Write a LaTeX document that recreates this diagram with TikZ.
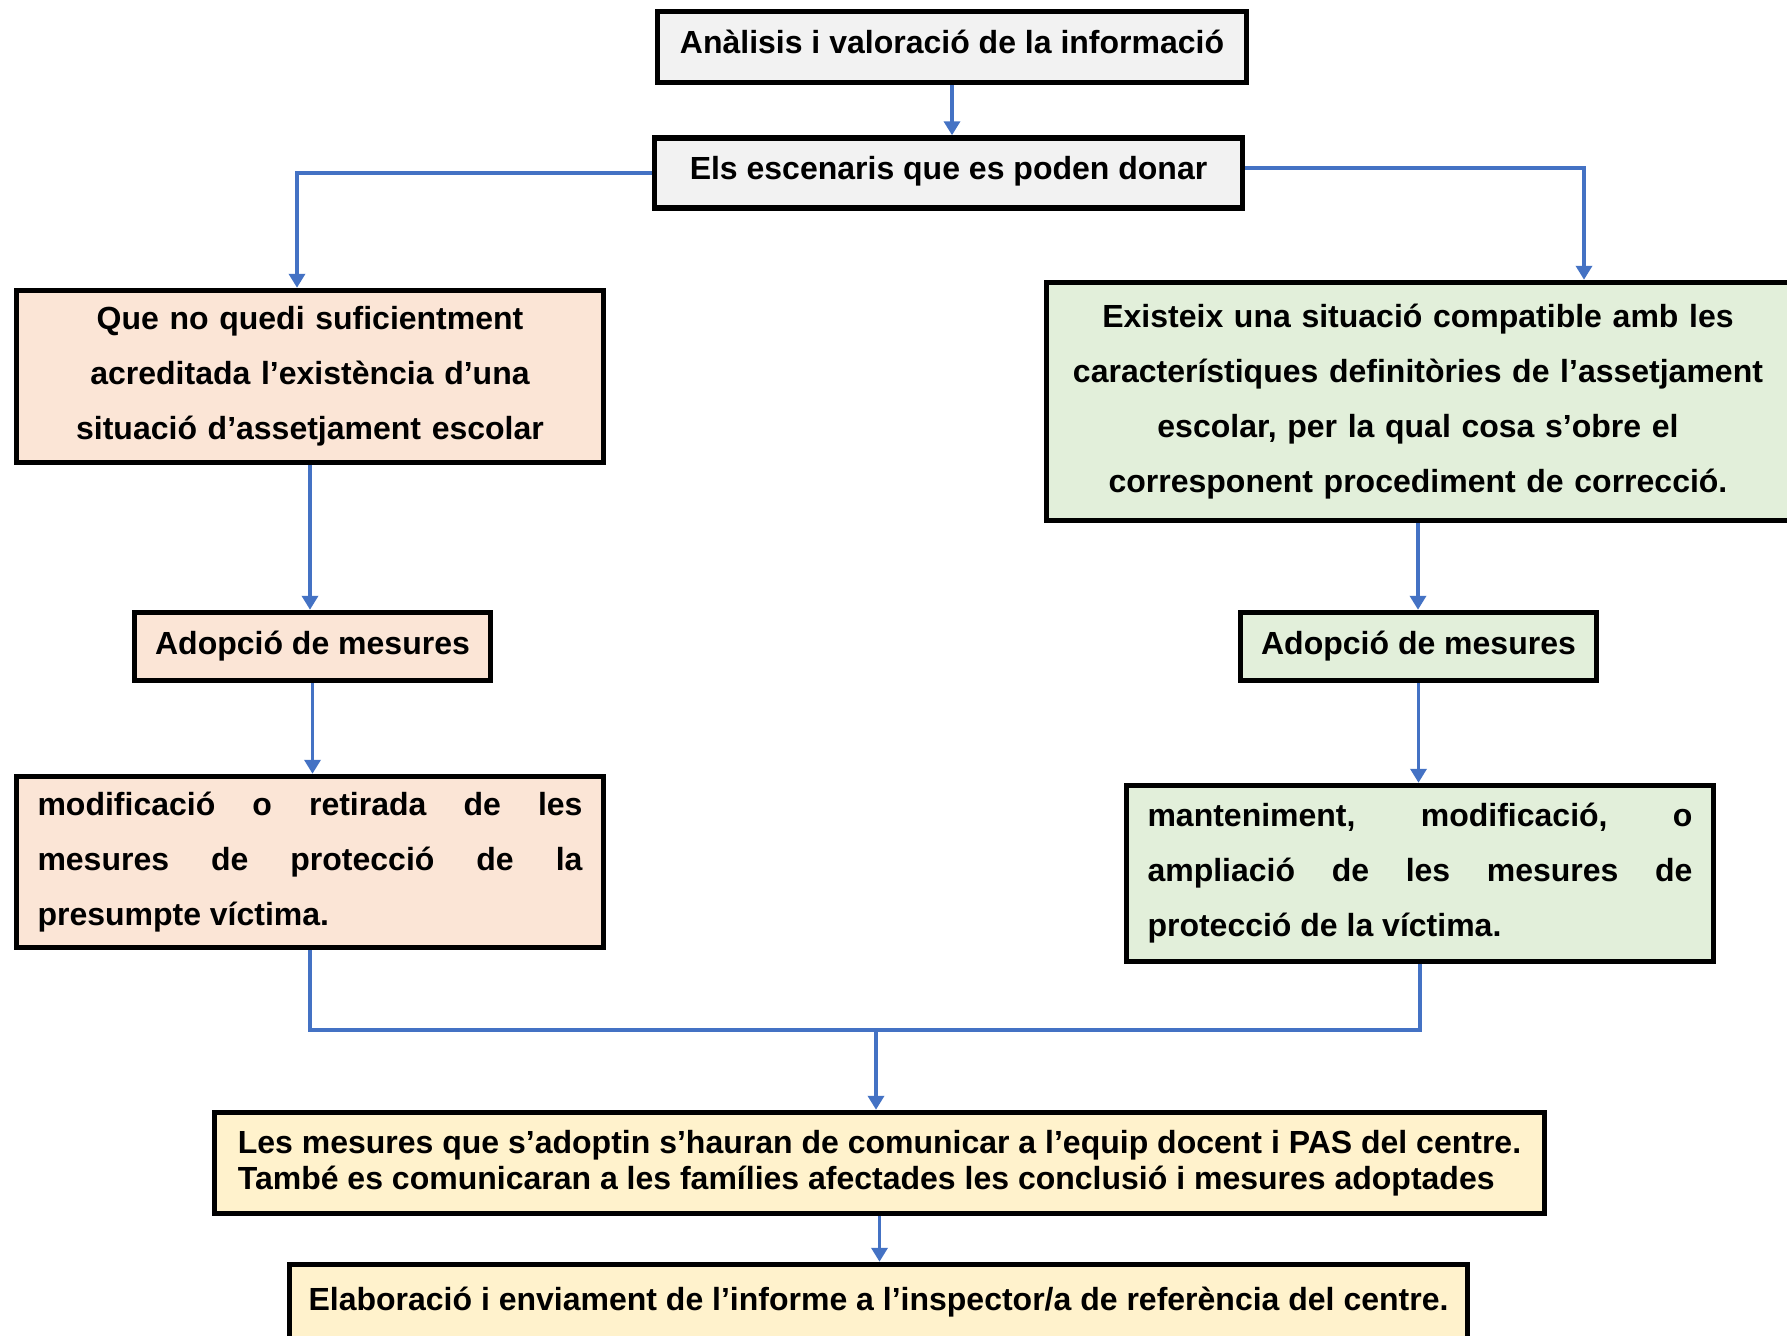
\documentclass[tikz,border=0pt]{standalone}
\usepackage{fontspec}
\setmainfont{Liberation Sans}
\usetikzlibrary{arrows.meta}
\definecolor{boxgray}{HTML}{F2F2F2}
\definecolor{boxsalmon}{HTML}{FBE5D6}
\definecolor{boxgreen}{HTML}{E2EFDA}
\definecolor{boxyellow}{HTML}{FFF2CC}
\definecolor{linkblue}{HTML}{4472C4}
\begin{document}
\begin{tikzpicture}[x=0.5pt,y=-0.5pt,
  box/.style={draw=black, line width=2.75pt, rectangle, inner sep=0pt,
    font=\bfseries\fontsize{16}{27.5}\selectfont},
  conn/.style={draw=linkblue, line width=1.75pt},
  arr/.style={conn, -{Triangle[width=8pt,length=7pt]}}]
\useasboundingbox (0,0) rectangle (1787,1335);
\fill[white] (0,0) rectangle (1787,1335);
\clip (0,0) rectangle (1787,1335);

\node[box, fill=boxgray, minimum width=294.5pt, minimum height=35.5pt, text depth=5pt] (b1) at (952,47)
  {Anàlisis i valoració de la informació};
\node[box, fill=boxgray, minimum width=294pt, minimum height=35pt, text depth=5pt] (b2) at (948.5,173)
  {Els escenaris que es poden donar};
\node[box, fill=boxsalmon, minimum width=293.5pt, minimum height=86pt, text width=280pt, align=center] (b3) at (310,376.5)
  {Que no quedi suficientment\\ acreditada l’existència d’una\\ situació d’assetjament escolar};
\node[box, fill=boxgreen, minimum width=371.5pt, minimum height=119pt, text width=355pt, align=center] (b4) at (1418,401.5)
  {Existeix una situació compatible amb les\\ característiques definitòries de l’assetjament\\ escolar, per la qual cosa s’obre el\\ corresponent procediment de correcció.};
\node[box, fill=boxsalmon, minimum width=178pt, minimum height=34pt] (b5) at (312.5,646.5)
  {Adopció de mesures};
\node[box, fill=boxgreen, minimum width=178pt, minimum height=34pt] (b7) at (1418.5,646.5)
  {Adopció de mesures};
\node[box, fill=boxsalmon, minimum width=293.5pt, minimum height=85.5pt, text width=272.5pt, align=justify] (b6) at (310,862)
  {modificació o retirada de les\linebreak mesures de protecció de la\linebreak presumpte víctima.};
\node[box, fill=boxgreen, minimum width=293.5pt, minimum height=88pt, text width=272.5pt, align=justify] (b8) at (1420,873.5)
  {manteniment, modificació, o\linebreak ampliació de les mesures de\linebreak protecció de la víctima.};
\node[box, fill=boxyellow, minimum width=665pt, minimum height=50.5pt, align=left,
  font=\bfseries\fontsize{16}{18.25}\selectfont] (b9) at (879.5,1163)
  {Les mesures que s’adoptin s’hauran de comunicar a l’equip docent i PAS del centre.\\
   També es comunicaran a les famílies afectades les conclusió i mesures adoptades};
\node[box, fill=boxyellow, minimum width=589pt, minimum height=37.5pt] (b10) at (878.5,1302)
  {Elaboració i enviament de l’informe a l’inspector/a de referència del centre.};

\draw[arr] (b1.south) -- (b1.south |- b2.north);
\draw[arr] (b2.west) -| ([xshift=-6.5pt]b3.north);
\draw[arr] ([yshift=2.5pt]b2.east) -| ([xshift=83pt]b4.north);
\draw[arr] (b3.south) -- (b3.south |- b5.north);
\draw[arr] (b5.south) -- (b5.south |- b6.north);
\draw[arr] (b4.south) -- (b4.south |- b7.north);
\draw[arr] (b7.south) -- (b7.south |- b8.north);
\coordinate (j) at (876,1030);
\draw[conn] (b6.south) |- (j) -| (b8.south);
\draw[arr] (j) -- (j |- b9.north);
\draw[arr] (b9.south) -- (b9.south |- b10.north);
\end{tikzpicture}
\end{document}
